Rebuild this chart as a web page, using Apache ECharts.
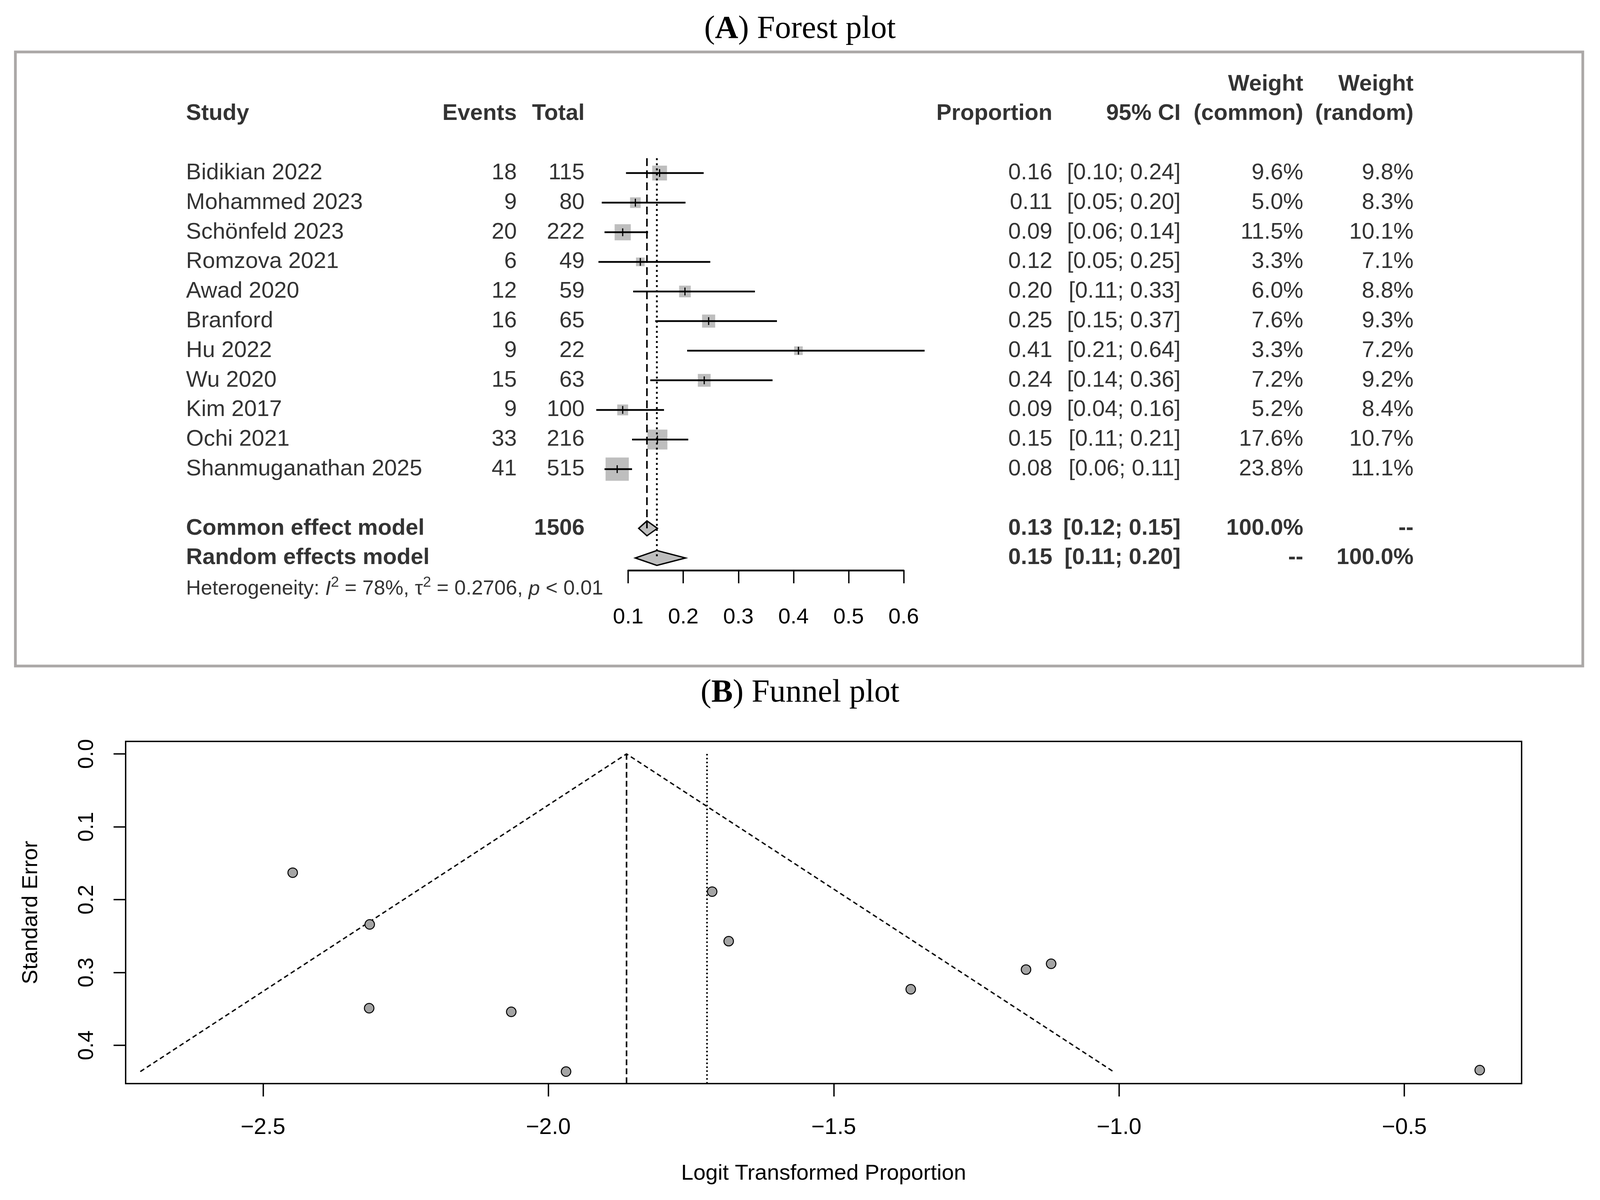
<!DOCTYPE html>
<html>
<head>
<meta charset="utf-8">
<script src="https://cdn.jsdelivr.net/npm/echarts@6/dist/echarts.min.js"></script>
<style>
  html, body { margin: 0; padding: 0; background: #fff; overflow: hidden; }
  #chart { width: 100vw; height: 100vh; }
</style>
</head>
<body>
<div id="chart"></div>
<script>
// ---------- forest plot data ----------
const studies = ['Bidikian 2022', 'Mohammed 2023', 'Schönfeld 2023', 'Romzova 2021', 'Awad 2020',
  'Branford', 'Hu 2022', 'Wu 2020', 'Kim 2017', 'Ochi 2021', 'Shanmuganathan 2025'];
const events = [18, 9, 20, 6, 12, 16, 9, 15, 9, 33, 41];
const totals = [115, 80, 222, 49, 59, 65, 22, 63, 100, 216, 515];

// square centres and CI ends as drawn
const proportion = [0.157, 0.113, 0.090, 0.122, 0.203, 0.246, 0.409, 0.238, 0.090, 0.153, 0.080];
const ciLower = [0.096, 0.052, 0.057, 0.046, 0.109, 0.149, 0.207, 0.140, 0.042, 0.107, 0.057];
const ciUpper = [0.237, 0.204, 0.136, 0.249, 0.330, 0.370, 0.638, 0.362, 0.165, 0.209, 0.107];

// printed table values
const propText = [0.16, 0.11, 0.09, 0.12, 0.20, 0.25, 0.41, 0.24, 0.09, 0.15, 0.08];
const lowText = [0.10, 0.05, 0.06, 0.05, 0.11, 0.15, 0.21, 0.14, 0.04, 0.11, 0.06];
const upText = [0.24, 0.20, 0.14, 0.25, 0.33, 0.37, 0.64, 0.36, 0.16, 0.21, 0.11];
const weightCommon = [9.6, 5.0, 11.5, 3.3, 6.0, 7.6, 3.3, 7.2, 5.2, 17.6, 23.8];
const weightRandom = [9.8, 8.3, 10.1, 7.1, 8.8, 9.3, 7.2, 9.2, 8.4, 10.7, 11.1];

const pooledNames = ['Common effect model', 'Random effects model'];
const pooledEst = [0.134, 0.152];
const pooledLower = [0.119, 0.113];
const pooledUpper = [0.153, 0.204];
const pooledPropText = [0.13, 0.15];
const pooledLowText = [0.12, 0.11];
const pooledUpText = [0.15, 0.20];
const pooledWeightCommon = ['100.0%', '--'];
const pooledWeightRandom = ['--', '100.0%'];
const totalN = 1506;
const heterogeneity = 'Heterogeneity: {i|I}{s|2} = 78%, τ{s|2} = 0.2706, {i|p} < 0.01';

// ---------- funnel plot data ----------
const logitProp = [-1.684, -2.065, -2.313, -1.969, -1.365, -1.119, -0.368, -1.163, -2.314, -1.713, -2.448];
const stdError = [0.257, 0.354, 0.234, 0.436, 0.323, 0.288, 0.434, 0.296, 0.349, 0.189, 0.163];
const commonLogit = -1.863;
const randomLogit = -1.722;
const funnelLeft = [-2.715, 0.436];
const funnelRight = [-1.010, 0.436];
const logitTicks = [-2.5, -2.0, -1.5, -1.0, -0.5];
const seTicks = [0.0, 0.1, 0.2, 0.3, 0.4];

// ---------- layout (designed for 4368 x 3072, scaled to the real window) ----------
const W = window.innerWidth || 4368, H = window.innerHeight || 3072;
const SX = W / 4368, SY = H / 3072;
const px = v => v * SX, py = v => v * SY;

const FONT = 'Liberation Sans, Arial, sans-serif';
const SERIF = 'Liberation Serif, Times New Roman, serif';
const ROW0 = 443, ROW_H = 75.8;       // design y of first study row, row pitch
const TEXT = 62 * SX;
const COL = { study: 508, events: 1411, total: 1596, prop: 2873, ci: 3223, wc: 3558, wr: 3859 };
const SQUARE_SCALE = 13 * SX;
const DIAMOND_H = 38 * SY;
const SE_MAX = 0.4525, SE_MIN = -0.0172;

function rowGrid(left, width, rMin, rMax) {
  return { left: px(left), width: px(width), top: py(ROW0 + rMin * ROW_H), height: py((rMax - rMin) * ROW_H),
    containLabel: false, outerBoundsMode: 'none' };
}

function textCol(x, rows, texts, align, bold) {
  return {
    type: 'scatter', xAxisIndex: 0, yAxisIndex: 0, symbolSize: 0, silent: true, z: 5,
    data: rows.map((r, i) => ({ name: String(texts[i]), value: [x, r] })),
    label: {
      show: true, formatter: '{b}', position: align === 'left' ? 'right' : 'left', distance: 0,
      fontFamily: FONT, fontSize: TEXT, fontWeight: bold ? 'bold' : 'normal', color: '#000'
    }
  };
}

const studyRows = studies.map((s, i) => i);
const ci = (l, u) => '[' + l.toFixed(2) + '; ' + u.toFixed(2) + ']';

const tableSeries = [
  // header
  textCol(COL.study, [-2], ['Study'], 'left', true),
  textCol(COL.events, [-2], ['Events'], 'right', true),
  textCol(COL.total, [-2], ['Total'], 'right', true),
  textCol(COL.prop, [-2], ['Proportion'], 'right', true),
  textCol(COL.ci, [-2], ['95% CI'], 'right', true),
  textCol(COL.wc, [-3, -2], ['Weight', '(common)'], 'right', true),
  textCol(COL.wr, [-3, -2], ['Weight', '(random)'], 'right', true),
  // studies
  textCol(COL.study, studyRows, studies, 'left'),
  textCol(COL.events, studyRows, events, 'right'),
  textCol(COL.total, studyRows, totals, 'right'),
  textCol(COL.prop, studyRows, propText.map(v => v.toFixed(2)), 'right'),
  textCol(COL.ci, studyRows, lowText.map((l, i) => ci(l, upText[i])), 'right'),
  textCol(COL.wc, studyRows, weightCommon.map(w => w.toFixed(1) + '%'), 'right'),
  textCol(COL.wr, studyRows, weightRandom.map(w => w.toFixed(1) + '%'), 'right'),
  // pooled
  textCol(COL.study, [12, 13], pooledNames, 'left', true),
  textCol(COL.total, [12], [totalN], 'right', true),
  textCol(COL.prop, [12, 13], pooledPropText.map(v => v.toFixed(2)), 'right', true),
  textCol(COL.ci, [12, 13], pooledLowText.map((l, i) => ci(l, pooledUpText[i])), 'right', true),
  textCol(COL.wc, [12, 13], pooledWeightCommon, 'right', true),
  textCol(COL.wr, [12, 13], pooledWeightRandom, 'right', true),
  {
    type: 'scatter', xAxisIndex: 0, yAxisIndex: 0, symbolSize: 0, silent: true,
    data: [{ name: 'het', value: [COL.study, 14.05] }],
    label: {
      show: true, position: 'right', distance: 0, formatter: heterogeneity,
      fontFamily: FONT, fontSize: 56 * SX, color: '#000', lineHeight: 70 * SY,
      rich: {
        i: { fontFamily: FONT, fontSize: 56 * SX, fontStyle: 'italic', color: '#000', lineHeight: 70 * SY },
        s: { fontFamily: FONT, fontSize: 40 * SX, color: '#000', verticalAlign: 'top', lineHeight: 36 * SY }
      }
    }
  }
];

const forestSeries = [
  {
    type: 'line', xAxisIndex: 1, yAxisIndex: 1, symbol: 'none', silent: true, clip: false,
    data: [[pooledEst[0], -0.5], [pooledEst[0], 12]],
    lineStyle: { color: '#000', width: 4, type: [20, 11] }
  },
  {
    type: 'line', xAxisIndex: 1, yAxisIndex: 1, symbol: 'none', silent: true, clip: false,
    data: [[pooledEst[1], -0.5], [pooledEst[1], 13]],
    lineStyle: { color: '#000', width: 4.5, type: [5, 8] }
  },
  {
    type: 'custom', xAxisIndex: 1, yAxisIndex: 1, clip: false, silent: true,
    data: proportion.map((p, i) => [p, i, ciLower[i], ciUpper[i], weightCommon[i]]),
    renderItem: function (params, api) {
      const c = api.coord([api.value(0), api.value(1)]);
      const lo = api.coord([api.value(2), api.value(1)]);
      const hi = api.coord([api.value(3), api.value(1)]);
      const side = SQUARE_SCALE * Math.sqrt(api.value(4));
      const t = 10 * SY;
      return {
        type: 'group', children: [
          { type: 'rect', shape: { x: c[0] - side / 2, y: c[1] - side / 2, width: side, height: side },
            style: { fill: '#bebebe' } },
          { type: 'line', shape: { x1: lo[0], y1: c[1], x2: hi[0], y2: c[1] },
            style: { stroke: '#000', lineWidth: 4.5 } },
          { type: 'line', shape: { x1: c[0], y1: c[1] - t, x2: c[0], y2: c[1] + t },
            style: { stroke: '#000', lineWidth: 3 } }
        ]
      };
    }
  },
  {
    type: 'custom', xAxisIndex: 1, yAxisIndex: 1, clip: false, silent: true,
    data: pooledEst.map((p, i) => [p, 12 + i, pooledLower[i], pooledUpper[i]]),
    renderItem: function (params, api) {
      const c = api.coord([api.value(0), api.value(1)]);
      const lo = api.coord([api.value(2), api.value(1)]);
      const hi = api.coord([api.value(3), api.value(1)]);
      return {
        type: 'polygon',
        shape: { points: [[lo[0], c[1]], [c[0], c[1] - DIAMOND_H / 2], [hi[0], c[1]], [c[0], c[1] + DIAMOND_H / 2]] },
        style: { fill: '#bebebe', stroke: '#000', lineWidth: 3.5 }
      };
    }
  }
];

const funnelSeries = [
  {
    type: 'line', xAxisIndex: 2, yAxisIndex: 2, symbol: 'none', silent: true,
    data: [funnelLeft, [commonLogit, 0], funnelRight],
    lineStyle: { color: '#000', width: 3.5, type: [12, 8] }
  },
  {
    type: 'line', xAxisIndex: 2, yAxisIndex: 2, symbol: 'none', silent: true,
    data: [[commonLogit, 0], [commonLogit, SE_MAX]],
    lineStyle: { color: '#000', width: 4, type: [15, 8] }
  },
  {
    type: 'line', xAxisIndex: 2, yAxisIndex: 2, symbol: 'none', silent: true,
    data: [[randomLogit, 0], [randomLogit, SE_MAX]],
    lineStyle: { color: '#000', width: 4, type: [4, 6] }
  },
  {
    type: 'scatter', xAxisIndex: 2, yAxisIndex: 2, silent: true, z: 4,
    data: logitProp.map((x, i) => [x, stdError[i]]),
    symbol: 'circle', symbolSize: 26 * SX,
    itemStyle: { color: '#a4a4a4', borderColor: '#000', borderWidth: 2.5, opacity: 1 }
  }
];

const chart = echarts.init(document.getElementById('chart'), null, { renderer: 'canvas', width: W, height: H });

const titleStyle = {
  fontFamily: SERIF, fontSize: 88 * SX, fontWeight: 'normal', color: '#000',
  rich: { b: { fontFamily: SERIF, fontSize: 88 * SX, fontWeight: 'bold', color: '#000' } }
};

chart.setOption({
  backgroundColor: '#fff',
  animation: false,
  title: [
    { text: '({b|A}) Forest plot', left: 'center', top: py(34), padding: 0, textStyle: titleStyle },
    { text: '({b|B}) Funnel plot', left: 'center', top: py(1733), padding: 0, textStyle: titleStyle }
  ],
  graphic: [
    { type: 'rect', shape: { x: px(42), y: py(133), width: px(4279), height: py(1572) },
      style: { fill: 'none', stroke: '#aba8a7', lineWidth: 7 }, silent: true }
  ],
  grid: [
    rowGrid(0, 4368, -4, 15),
    rowGrid(1715, 752, -0.5, 13.42),
    { left: px(343), top: py(1898), width: px(3811), height: py(876), show: true, borderColor: '#000',
      borderWidth: 3.5, backgroundColor: 'transparent', containLabel: false, outerBoundsMode: 'none' }
  ],
  xAxis: [
    { gridIndex: 0, type: 'value', min: 0, max: 4368, show: false },
    {
      gridIndex: 1, type: 'value', min: 0.1, max: 0.6, interval: 0.1, position: 'bottom',
      axisLine: { show: true, onZero: false, lineStyle: { color: '#000', width: 4.5 } },
      axisTick: { show: true, length: py(33), lineStyle: { color: '#000', width: 3.5 } },
      axisLabel: { fontFamily: FONT, fontSize: 60 * SX, color: '#000', margin: py(92),
        formatter: v => v.toFixed(1) },
      splitLine: { show: false }
    },
    {
      gridIndex: 2, type: 'value', min: -2.7407, max: -0.2946, position: 'bottom',
      axisLine: { show: false, onZero: false },
      axisTick: { show: true, length: py(33), customValues: logitTicks, lineStyle: { color: '#000', width: 3.5 } },
      axisLabel: { fontFamily: FONT, fontSize: 62 * SX, color: '#000', margin: py(84), customValues: logitTicks,
        formatter: v => v.toFixed(1).replace('-', '\u2212') },
      splitLine: { show: false },
      name: 'Logit Transformed Proportion', nameLocation: 'middle', nameGap: py(202),
      nameTextStyle: { fontFamily: FONT, fontSize: 60 * SX, color: '#000' }
    }
  ],
  yAxis: [
    { gridIndex: 0, type: 'value', min: -4, max: 15, inverse: true, show: false },
    { gridIndex: 1, type: 'value', min: -0.5, max: 13.42, inverse: true, show: false },
    {
      gridIndex: 2, type: 'value', min: SE_MIN, max: SE_MAX, inverse: true,
      axisLine: { show: false, onZero: false },
      axisTick: { show: true, length: px(33), customValues: seTicks, lineStyle: { color: '#000', width: 3.5 } },
      axisLabel: { fontFamily: FONT, fontSize: 55 * SY, color: '#000', margin: px(76), rotate: 90,
        customValues: seTicks, formatter: v => v.toFixed(1) },
      splitLine: { show: false },
      name: 'Standard Error', nameLocation: 'middle', nameGap: px(228),
      nameTextStyle: { fontFamily: FONT, fontSize: 56 * SY, color: '#000' }
    }
  ],
  series: [].concat(tableSeries, forestSeries, funnelSeries)
});
</script>
</body>
</html>
